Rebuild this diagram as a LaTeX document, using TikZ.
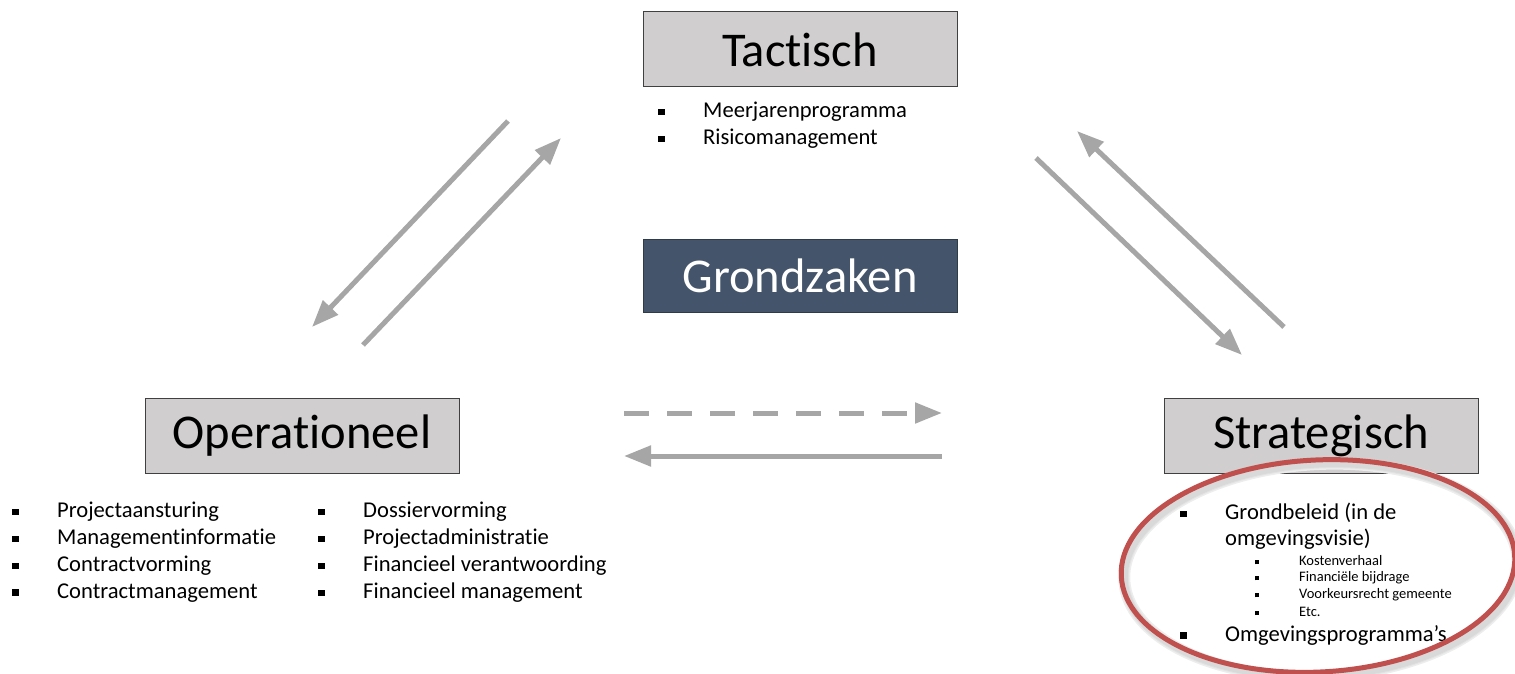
\documentclass[tikz,border=0pt]{standalone}
\usepackage{fontspec}
\setmainfont{Carlito}[Ligatures={NoCommon,NoRequired,NoContextual,NoRare,NoDiscretionary}]
\usetikzlibrary{arrows.meta}
\definecolor{boxgray}{HTML}{D0CECE}
\definecolor{boxline}{HTML}{404040}
\definecolor{navy}{HTML}{44546A}
\definecolor{arrgray}{HTML}{A6A6A6}
\definecolor{ellred}{HTML}{C0504D}
\newcommand\bulA[1]{\makebox[45pt][l]{\raisebox{2.5pt}{\rule{6.5pt}{6.5pt}}}#1}
\newcommand\bulB[1]{\makebox[44pt][l]{\raisebox{1.5pt}{\rule{4pt}{4pt}}}#1}
\tikzset{
  head/.style={draw=boxline, line width=1pt, fill=boxgray, minimum width=314pt, minimum height=75pt, font=\fontsize{48.5}{52}\selectfont, inner sep=0pt},
  core/.style={draw=navy!70!black, line width=1pt, fill=navy, text=white, minimum width=314pt, minimum height=73pt, font=\fontsize{48.5}{52}\selectfont, inner sep=0pt},
  item/.style={anchor=west, inner sep=0pt, font=\fontsize{22.6}{25}\selectfont},
  subitem/.style={anchor=west, inner sep=0pt, font=\fontsize{14.5}{16}\selectfont},
  flow/.style={draw=arrgray, line width=5pt, -{Triangle[length=27pt,width=20pt]}},
}
\begin{document}
\begin{tikzpicture}[x=1pt,y=-1pt]
\useasboundingbox (0,0) rectangle (1515,674);

% heading boxes
\node[head] (tac) at (800,49.5) {Tactisch};
\node[core] (grond) at (800,275.5) {Grondzaken};
\node[head] (ope) at (302,436) {Operationeel};
\node[head] (str) at (1321,436) {Strategisch};

% Tactisch list
\node[item] (t1) at (658,112) {\bulA{Meerjarenprogramma}};
\node[item] (t2) at (658,139) {\bulA{Risicomanagement}};

% Operationeel lists
\node[item] (o1) at (12,512) {\bulA{Projectaansturing}};
\node[item] (o2) at (12,539) {\bulA{Managementinformatie}};
\node[item] (o3) at (12,566) {\bulA{Contractvorming}};
\node[item] (o4) at (12,593) {\bulA{Contractmanagement}};
\node[item] (o5) at (318,512) {\bulA{Dossiervorming}};
\node[item] (o6) at (318,539) {\bulA{Projectadministratie}};
\node[item] (o7) at (318,566) {\bulA{Financieel verantwoording}};
\node[item] (o8) at (318,593) {\bulA{Financieel management}};

% Strategisch list
\node[item] (s1) at (1180,513) {\bulA{Grondbeleid (in de}};
\node[item] (s2) at (1225,539) {omgevingsvisie)};
\node[subitem] (s3) at (1255,561) {\bulB{Kostenverhaal}};
\node[subitem] (s4) at (1255,578) {\bulB{Financiële bijdrage}};
\node[subitem] (s5) at (1255,595) {\bulB{Voorkeursrecht gemeente}};
\node[subitem] (s6) at (1255,612) {\bulB{Etc.}};
\node[item] (s7) at (1180,635) {\bulA{Omgevingsprogramma’s}};

% red ellipse with soft shadow
\coordinate (ec) at (1318,566);
\foreach \w/\o in {12/7,9/11,7/15}{
  \draw[black!\o, line width=\w pt, rotate around={3:(1321,570)}] (1321,570) ellipse [x radius=197, y radius=106];
}
\draw[ellred, line width=5pt, rotate around={3:(ec)}] (ec) ellipse [x radius=197, y radius=106];

% arrow end points
\coordinate (a1s) at (508,121); \coordinate (a1e) at (312,327);
\coordinate (a2s) at (363,345); \coordinate (a2e) at (561,138);
\coordinate (a3s) at (1036,158); \coordinate (a3e) at (1242,355);
\coordinate (a4s) at (1284,327); \coordinate (a4e) at (1077,131);
\coordinate (a5s) at (624,413); \coordinate (a5e) at (942,413);
\coordinate (a6s) at (942,456); \coordinate (a6e) at (624,456);

\draw[flow] (a1s) -- (a1e);
\draw[flow] (a2s) -- (a2e);
\draw[flow] (a3s) -- (a3e);
\draw[flow] (a4s) -- (a4e);
\draw[flow, dash pattern=on 25pt off 18pt] (a5s) -- (a5e);
\draw[flow] (a6s) -- (a6e);
\end{tikzpicture}
\end{document}
